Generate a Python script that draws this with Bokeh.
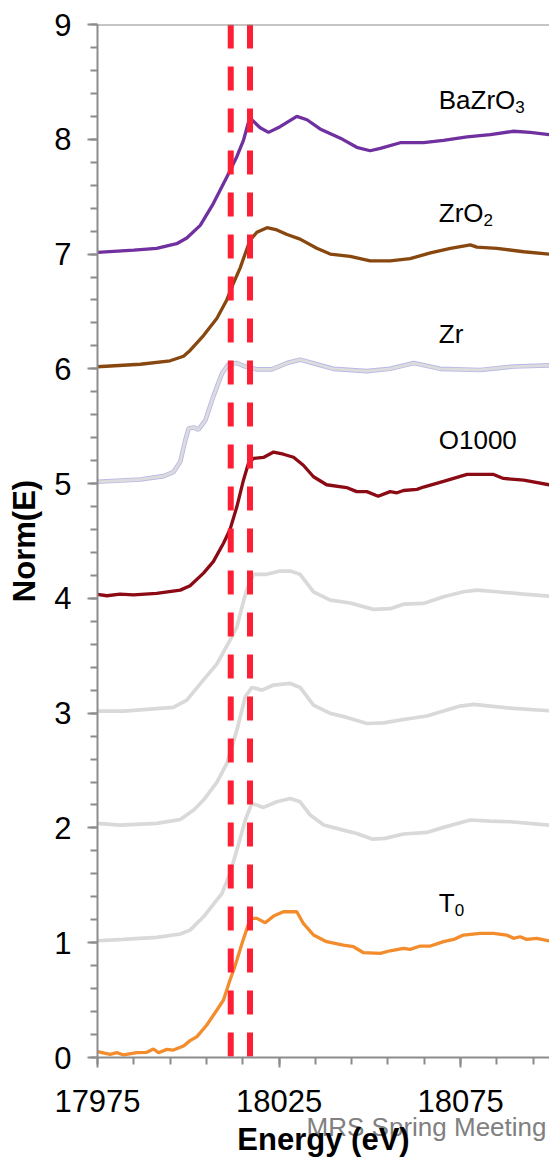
from bokeh.plotting import figure
from bokeh.models import FixedTicker, Span, Title
from bokeh.core.properties import value
from bokeh.embed import file_html
from bokeh.resources import INLINE

# ---------------- data ----------------
e_bazro3 = [17975, 17985, 17991.3, 17996.8, 17999.6, 18003.3, 18006.9, 18010.6, 18013.4, 18015.2, 18016.6,
            18017.5, 18019.8, 18022.1, 18025.3, 18029.9, 18032.7, 18036.3, 18041.9, 18046.4, 18050.1, 18052.9,
            18058.4, 18064.8, 18070.3, 18076.8, 18083.2, 18089.6, 18094.2, 18099.4, 18102]
v_bazro3 = [7.014, 7.034, 7.05, 7.09, 7.14, 7.25, 7.44, 7.67, 7.85, 7.99, 8.15,
            8.17, 8.10, 8.06, 8.11, 8.20, 8.17, 8.09, 8.01, 7.93, 7.90, 7.92,
            7.97, 7.97, 7.99, 8.02, 8.04, 8.07, 8.06, 8.04, 8.03]

e_zro2 = [17975, 17986.8, 17995, 17998.7, 18000.5, 18004.2, 18007.9, 18010.6, 18012.5, 18014.3, 18015.2,
          18017.0, 18018.9, 18021.7, 18024.4, 18027.2, 18030.8, 18035.4, 18039.1, 18044.6, 18050.1, 18055.6,
          18061.1, 18066.7, 18072.2, 18077.7, 18079.5, 18085.0, 18092.4, 18099.4, 18102]
v_zro2 = [6.018, 6.04, 6.07, 6.11, 6.16, 6.29, 6.44, 6.60, 6.75, 6.88, 6.96,
          7.12, 7.19, 7.23, 7.21, 7.17, 7.13, 7.05, 7.00, 6.98, 6.94, 6.94,
          6.96, 7.01, 7.05, 7.08, 7.06, 7.05, 7.02, 7.00, 7.00]

e_zr = [17975, 17986.8, 17993.2, 17995.9, 17997.8, 17999.2, 18000.1, 18001.5, 18002.8, 18004.7, 18006.9,
        18009.3, 18011.1, 18013.4, 18015.7, 18018.9, 18023.0, 18027.2, 18030.8, 18035.4, 18040.0, 18049.2,
        18055.6, 18062.1, 18069.4, 18080.4, 18089.6, 18099.4, 18102]
v_zr = [5.016, 5.036, 5.065, 5.10, 5.19, 5.38, 5.48, 5.49, 5.47, 5.55, 5.76,
        5.96, 6.04, 6.05, 6.02, 5.995, 5.995, 6.05, 6.08, 6.04, 6.00, 5.98,
        6.00, 6.05, 6.00, 5.99, 6.02, 6.03, 6.03]

e_o1000 = [17975, 17977.6, 17981.2, 17984.9, 17991.3, 17997.8, 18000.5, 18004.2, 18006.9, 18009.7, 18011.5,
           18013.4, 18015.2, 18016.6, 18018.0, 18020.7, 18023.5, 18026.2, 18029.0, 18031.7, 18034.5, 18038.1,
           18043.6, 18046.4, 18049.2, 18052.3, 18055.6, 18057.5, 18059.3, 18063.0, 18064.8, 18070.3, 18076.8,
           18084.1, 18086.8, 18092.4, 18099.4, 18102]
v_o1000 = [4.035, 4.023, 4.037, 4.03, 4.043, 4.072, 4.11, 4.22, 4.32, 4.48, 4.60,
           4.80, 5.03, 5.18, 5.22, 5.228, 5.275, 5.256, 5.23, 5.16, 5.06, 4.99,
           4.966, 4.93, 4.93, 4.89, 4.93, 4.92, 4.94, 4.95, 4.97, 5.02, 5.08,
           5.08, 5.045, 5.03, 4.99, 4.98]

e_gray3 = [17975, 17982.2, 17989.5, 17995.9, 17999.6, 18004.2, 18007.9, 18011.5, 18013.4, 18015.3, 18016.1,
           18018.0, 18021.6, 18025.3, 18028.1, 18030.8, 18034.5, 18039.1, 18044.6, 18051.0, 18055.6, 18059.3,
           18064.8, 18070.3, 18075.8, 18079.5, 18085.0, 18092.4, 18099.4, 18102]
v_gray3 = [3.018, 3.018, 3.035, 3.05, 3.114, 3.29, 3.43, 3.637, 3.753, 3.985, 4.07,
           4.21, 4.21, 4.238, 4.238, 4.21, 4.057, 3.985, 3.96, 3.904, 3.91, 3.95,
           3.956, 4.014, 4.058, 4.072, 4.058, 4.037, 4.02, 4.02]

e_gray2 = [17975, 17981.2, 17991.3, 17997.8, 18001.5, 18004.2, 18007.9, 18010.6, 18013.4, 18015.7, 18017.5,
           18020.3, 18023.5, 18028.1, 18030.8, 18034.5, 18039.1, 18043.7, 18049.2, 18053.8, 18059.3, 18065.7,
           18070.3, 18074.9, 18078.6, 18083.2, 18089.6, 18099.4, 18102]
v_gray2 = [2.04, 2.025, 2.04, 2.074, 2.156, 2.243, 2.40, 2.56, 2.853, 3.143, 3.224,
           3.201, 3.245, 3.259, 3.224, 3.07, 2.998, 2.963, 2.91, 2.916, 2.945, 2.975,
           3.018, 3.062, 3.076, 3.062, 3.041, 3.021, 3.02]

e_gray1 = [17975, 17982.2, 17991.3, 17997.8, 18000.5, 18004.2, 18009.3, 18011.5, 18013.9, 18015.7, 18017.5,
           18020.7, 18024.4, 18028.1, 18030.8, 18033.6, 18037.3, 18042.7, 18046.4, 18050.6, 18054.2, 18059.3,
           18065.7, 18070.3, 18077.7, 18083.2, 18088.7, 18099.4, 18102]
v_gray1 = [1.017, 1.029, 1.047, 1.076, 1.11, 1.226, 1.43, 1.604, 1.865, 2.069, 2.214,
           2.179, 2.228, 2.257, 2.228, 2.112, 2.025, 1.981, 1.952, 1.903, 1.909, 1.947,
           1.961, 2.005, 2.069, 2.06, 2.054, 2.025, 2.02]

e_t0 = [17975, 17978.5, 17980.3, 17982.2, 17985.8, 17988.6, 17990.4, 17991.8, 17994.1, 17995.9, 17998.7,
        18000.5, 18002.4, 18005.1, 18007.9, 18009.7, 18011.5, 18012.5, 18013.4, 18014.8, 18017.1, 18018.9,
        18021.2, 18023.5, 18026.2, 18029.9, 18031.7, 18034.5, 18038.1, 18042.7, 18045.5, 18048.3, 18052.9,
        18055.6, 18059.3, 18061.1, 18063.9, 18066.7, 18070.3, 18073.1, 18075.8, 18080.4, 18084.1, 18087.7,
        18089.6, 18091.4, 18093.2, 18096.0, 18099.4, 18102]
v_t0 = [0.051, 0.027, 0.042, 0.022, 0.042, 0.045, 0.074, 0.042, 0.071, 0.065, 0.10,
        0.147, 0.182, 0.283, 0.414, 0.501, 0.675, 0.762, 0.85, 0.994, 1.212, 1.212,
        1.174, 1.232, 1.27, 1.27, 1.168, 1.067, 1.009, 0.98, 0.965, 0.913, 0.907,
        0.93, 0.951, 0.942, 0.971, 0.971, 1.009, 1.029, 1.067, 1.081, 1.081, 1.067,
        1.038, 1.052, 1.029, 1.038, 1.015, 1.01]

edge_lines = [18011.7, 18017.0]

label_main = ["BaZrO", "ZrO", "Zr", "O1000", "T"]
label_sub = ["3", "2", "", "", "0"]
label_x = [18069.0, 18069.0, 18069.0, 18069.0, 18069.0]
label_y = [8.34, 7.36, 6.30, 5.38, 1.35]

x_major = [17975, 18025, 18075]
x_major_labels = ["17975", "18025", "18075"]
y_major = [0, 1, 2, 3, 4, 5, 6, 7, 8, 9]

x_title = "Energy (eV)"
y_title = "Norm(E)"
watermark = "MRS Spring Meeting"

# ---------------- figure ----------------
FONT = "Liberation Sans"
AX = "#8c8c8c"
X0, X1 = 17975, 18099.5

p = figure(width=549, height=1157, x_range=(X0, X1), y_range=(0, 9),
           output_backend="svg", toolbar_location=None,
           min_border_left=97, min_border_right=0, min_border_top=24, min_border_bottom=100)
p.outline_line_color = None
p.grid.visible = False
p.background_fill_color = "white"
p.border_fill_color = "white"

# axes
p.xaxis.ticker = FixedTicker(ticks=x_major, minor_ticks=list(range(17975, 18101, 10)))
p.xaxis.major_label_overrides = {t: s for t, s in zip(x_major, x_major_labels)}
p.yaxis.ticker = FixedTicker(ticks=y_major, minor_ticks=[i / 5 for i in range(0, 46)])
for ax in (p.xaxis[0], p.yaxis[0]):
    ax.axis_line_color = AX
    ax.axis_line_width = 2
    ax.major_tick_line_color = AX
    ax.minor_tick_line_color = AX
    ax.major_tick_line_width = 2
    ax.minor_tick_line_width = 2
    ax.major_tick_in = 0
    ax.minor_tick_in = 0
    ax.major_tick_out = 10
    ax.minor_tick_out = 7
    ax.major_label_text_font = FONT
    ax.major_label_text_font_size = "31px"
    ax.major_label_text_color = "black"
    ax.axis_label_text_font = FONT
    ax.axis_label_text_font_style = "bold"
    ax.axis_label_text_color = "black"
    ax.axis_label_text_font_size = "31px"

p.xaxis.major_label_standoff = 22
p.yaxis.major_label_standoff = 16
p.yaxis.axis_label = y_title
p.yaxis.axis_label_standoff = 9

# watermark and x title stacked below the axis
p.add_layout(Title(text=watermark, align="right", offset=3, standoff=-10,
                   text_font=FONT, text_font_size="26px", text_font_style="normal",
                   text_color="#808080"), "below")
p.add_layout(Title(text=x_title, align="center", standoff=-40,
                   text_font=FONT, text_font_size="31px", text_font_style="bold",
                   text_color="black"), "below")

# top border line
p.add_layout(Span(location=9, dimension="width", line_color=AX, line_width=2))

# curves
LW = 3.3
GRAY = "#d9d9d9"
p.line(e_gray1, v_gray1, line_color=GRAY, line_width=3.7)
p.line(e_gray2, v_gray2, line_color=GRAY, line_width=3.7)
p.line(e_gray3, v_gray3, line_color=GRAY, line_width=3.7)
p.line(e_zr, v_zr, line_color="#b9b9e8", line_width=4.6)
p.line(e_zr, v_zr, line_color="#dcdcdc", line_width=2.8)
p.line(e_o1000, v_o1000, line_color="#8b0a14", line_width=LW)
p.line(e_zro2, v_zro2, line_color="#87470f", line_width=LW)
p.line(e_bazro3, v_bazro3, line_color="#7030a0", line_width=LW)
p.line(e_t0, v_t0, line_color="#f28c2c", line_width=LW)

# absorption-edge markers
p.segment(x0=edge_lines, y0=[9] * len(edge_lines), x1=edge_lines, y1=[0] * len(edge_lines),
          line_color="#ff1f35", line_width=6, line_dash="24 18")

# curve labels
p.text(x=label_x, y=label_y, text=label_main, text_font=value(FONT), text_font_size="26px",
       text_color="black", text_baseline="alphabetic", text_align="left")
sub_x, sub_y, sub_t = [], [], []
main_w = {"BaZrO": 2.945, "ZrO": 1.722, "T": 0.611}
ppx = 452.0 / (X1 - X0)
for t, s, x, y in zip(label_main, label_sub, label_x, label_y):
    if s:
        sub_x.append(x + main_w[t] * 26 / ppx)
        sub_y.append(y - 7 / 114.8)
        sub_t.append(s)
p.text(x=sub_x, y=sub_y, text=sub_t, text_font=value(FONT), text_font_size="17px",
       text_color="black", text_baseline="alphabetic", text_align="left")

open("out.html", "w").write(file_html(p, INLINE))
